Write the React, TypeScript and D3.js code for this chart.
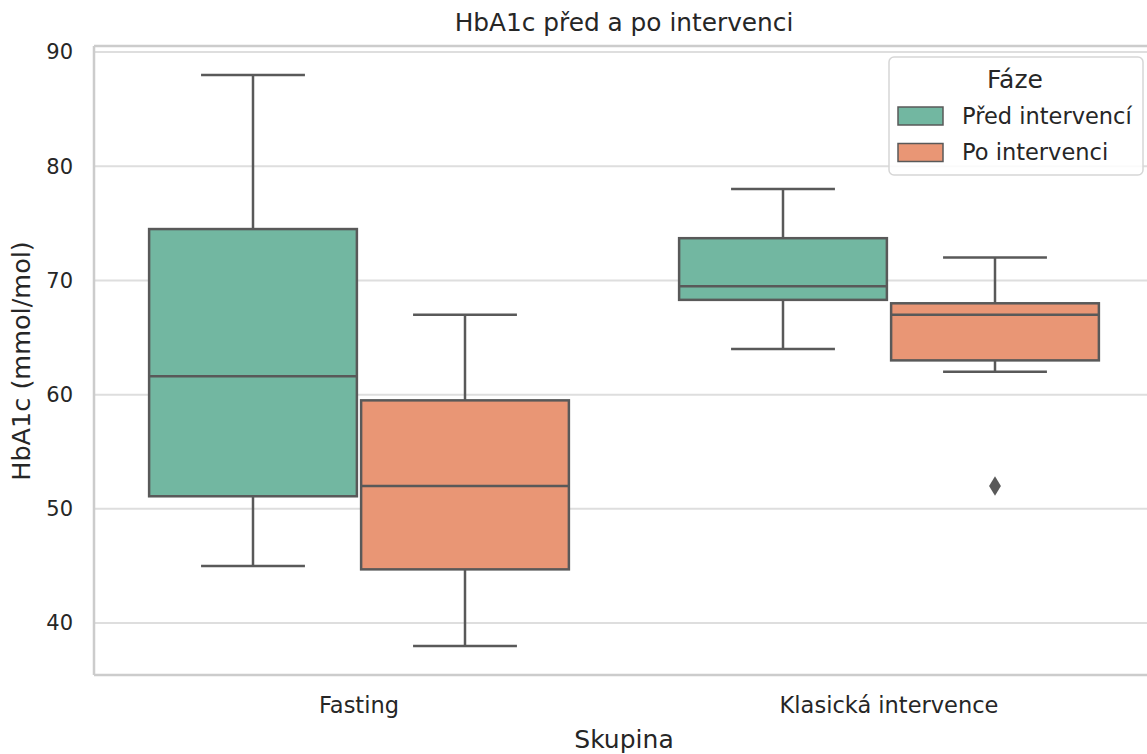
import React, { useEffect } from "react";
import * as d3 from "d3";

const categories = ["Fasting", "Klasická intervence"];
const phases = ["Před intervencí", "Po intervenci"];
const phaseColors = ["#72b7a1", "#e99675"];
// [whiskerLow, q1, median, q3, whiskerHigh]
const predStats = [
  [45, 51.1, 61.6, 74.5, 88],
  [64, 68.3, 69.5, 73.7, 78],
];
const poStats = [
  [38, 44.7, 52, 59.5, 67],
  [62, 63, 67, 68, 72],
];
const poOutliers = [[], [52]];
const predOutliers = [[], []];
const yTicks = [40, 50, 60, 70, 80, 90];

const W = 1147;
const H = 754;
const LINE = "#595959";
const TEXT = "#262626";
const FONT = "'DejaVu Sans', sans-serif";

export default function App() {
  useEffect(() => {
    document.body.style.margin = "0";
  }, []);

  const left = 94;
  const right = 1154;
  const top = 46;
  const bottom = 675;

  const x = d3.scaleLinear().domain([-0.5, 1.5]).range([left, right]);
  const y = d3.scaleLinear().domain([35.45, 90.53]).range([bottom, top]);
  const groupW = x(0.8) - x(0);
  const hueW = groupW / 2;
  const boxW = hueW * 0.98;

  const series = [
    { stats: predStats, outliers: predOutliers, color: phaseColors[0] },
    { stats: poStats, outliers: poOutliers, color: phaseColors[1] },
  ];

  const diamond = d3.symbol().type(d3.symbolDiamond).size(110)();

  return (
    <svg width={W} height={H} style={{ display: "block", background: "#fff" }} fontFamily={FONT}>
      {/* grid */}
      {yTicks.map((t) => (
        <line key={"g" + t} x1={left} x2={right} y1={y(t)} y2={y(t)} stroke="#dedede" strokeWidth={2} />
      ))}
      {/* spines */}
      <line x1={left} x2={left} y1={top} y2={bottom} stroke="#cccccc" strokeWidth={2.5} />
      <line x1={left} x2={right} y1={bottom} y2={bottom} stroke="#cccccc" strokeWidth={2.5} />
      <line x1={left} x2={right} y1={top} y2={top} stroke="#cccccc" strokeWidth={2.5} />

      {/* boxes */}
      {series.map((s, si) =>
        categories.map((c, ci) => {
          const cx = x(ci) - groupW / 2 + hueW * si + hueW / 2;
          const [lo, q1, med, q3, hi] = s.stats[ci];
          const capW = boxW / 2;
          return (
            <g key={c + si}>
              <line x1={cx} x2={cx} y1={y(q3)} y2={y(hi)} stroke={LINE} strokeWidth={2.5} />
              <line x1={cx} x2={cx} y1={y(q1)} y2={y(lo)} stroke={LINE} strokeWidth={2.5} />
              <line x1={cx - capW / 2} x2={cx + capW / 2} y1={y(hi)} y2={y(hi)} stroke={LINE} strokeWidth={2.5} />
              <line x1={cx - capW / 2} x2={cx + capW / 2} y1={y(lo)} y2={y(lo)} stroke={LINE} strokeWidth={2.5} />
              <rect x={cx - boxW / 2} y={y(q3)} width={boxW} height={y(q1) - y(q3)} fill={s.color} stroke={LINE} strokeWidth={2.5} />
              <line x1={cx - boxW / 2} x2={cx + boxW / 2} y1={y(med)} y2={y(med)} stroke={LINE} strokeWidth={2.5} />
              {s.outliers[ci].map((o, oi) => (
                <path key={oi} d={diamond} transform={`translate(${cx},${y(o)}) scale(1.05,1.0)`} fill={LINE} />
              ))}
            </g>
          );
        })
      )}

      {/* y ticks */}
      {yTicks.map((t) => (
        <text key={"t" + t} x={73} y={y(t)} dy="0.35em" textAnchor="end" fontSize={21} fill={TEXT}>
          {t}
        </text>
      ))}
      {/* x ticks */}
      {categories.map((c, ci) => (
        <text key={c} x={x(ci)} y={705} dy="0.35em" textAnchor="middle" fontSize={22.5} fill={TEXT}>
          {c}
        </text>
      ))}

      {/* labels */}
      <text x={(left + right) / 2} y={739} dy="0.35em" textAnchor="middle" fontSize={25} fill={TEXT}>
        Skupina
      </text>
      <text transform={`translate(21,${361}) rotate(-90)`} dy="0.35em" textAnchor="middle" fontSize={25.5} fill={TEXT}>
        HbA1c (mmol/mol)
      </text>
      <text x={(left + right) / 2} y={22} dy="0.35em" textAnchor="middle" fontSize={24.8} fill={TEXT}>
        HbA1c před a po intervenci
      </text>

      {/* legend */}
      <g>
        <rect x={889} y={57} width={254} height={118} rx={5} fill="#fff" fillOpacity={0.85} stroke="#d6d6d6" strokeWidth={1.5} />
        <text x={1015} y={79} dy="0.35em" textAnchor="middle" fontSize={25} fill={TEXT}>
          Fáze
        </text>
        {phases.map((p, i) => (
          <g key={p}>
            <rect x={898} y={107 + i * 36.5} width={45} height={18} fill={phaseColors[i]} stroke={LINE} strokeWidth={1.5} />
            <text x={962} y={116 + i * 36.5} dy="0.35em" fontSize={22.5} fill={TEXT}>
              {p}
            </text>
          </g>
        ))}
      </g>
    </svg>
  );
}
